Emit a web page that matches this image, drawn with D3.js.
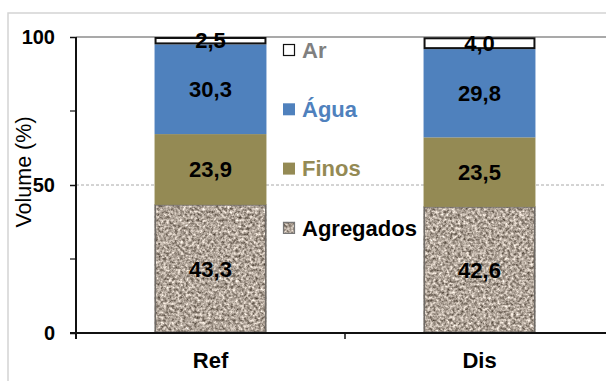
<!DOCTYPE html>
<html>
<head>
<meta charset="utf-8">
<script src="https://cdn.jsdelivr.net/npm/d3@7/dist/d3.min.js"></script>
<style>
  html, body { margin: 0; padding: 0; background: #fff; }
  svg { display: block; font-family: "Liberation Sans", Arial, sans-serif; }
</style>
</head>
<body>
<svg id="chart" width="606" height="381"></svg>
<script>
// Volume composition of the two mixes (%)
const categories = ["Ref", "Dis"];
const agregados = [43.3, 42.6];
const finos = [23.9, 23.5];
const agua = [30.3, 29.8];
const ar = [2.5, 4.0];
const seriesNames = ["Agregados", "Finos", "Água", "Ar"];
const yTicks = [0, 50, 100];
const yMinorTicks = [25, 75];
const yTitle = "Volume (%)";

const seriesValues = [agregados, finos, agua, ar];
const rows = categories.map((c, i) => {
  const r = { cat: c };
  seriesNames.forEach((s, k) => { r[s] = seriesValues[k][i]; });
  return r;
});

const svg = d3.select("#chart");
const W = 606, H = 381;
const plotL = 76, plotR = 614, plotT = 37, plotB = 333;

// grain texture for the aggregate segments
const defs = svg.append("defs");
const f = defs.append("filter").attr("id", "gravel")
  .attr("x", 0).attr("y", 0).attr("width", 1).attr("height", 1)
  .attr("color-interpolation-filters", "sRGB");
f.append("feTurbulence").attr("type", "fractalNoise")
  .attr("baseFrequency", 0.36).attr("numOctaves", 3).attr("seed", 7).attr("result", "n");
f.append("feColorMatrix").attr("in", "n").attr("type", "matrix")
  .attr("values", "1.05 0 0 0 0.165  1.05 0 0 0 0.12  1.05 0 0 0 0.075  0 0 0 0 1")
  .attr("result", "c");
f.append("feComposite").attr("in", "c").attr("in2", "SourceGraphic").attr("operator", "in");

// outer frame
svg.append("path").attr("d", `M8,${H}V13H${W}`)
  .attr("fill", "none").attr("stroke", "#d4d4d4").attr("stroke-width", 1.5);

const x = d3.scaleBand().domain(categories).range([plotL, plotR])
  .paddingInner(0.584).paddingOuter(0.292);
const y = d3.scaleLinear().domain([0, 100]).range([plotB, plotT]);

// gridlines
svg.append("line").attr("x1", plotL).attr("x2", W).attr("y1", y(50)).attr("y2", y(50))
  .attr("stroke", "#a8a8a8").attr("stroke-width", 1).attr("stroke-dasharray", "3,2");
svg.append("line").attr("x1", plotL).attr("x2", W).attr("y1", y(100)).attr("y2", y(100))
  .attr("stroke", "#8c8c8c").attr("stroke-width", 1.5);

const colors = { "Agregados": "#b0a496", "Finos": "#948a54", "Água": "#4f81bd", "Ar": "#ffffff" };
const legendColors = { "Agregados": "#000000", "Finos": "#948a54", "Água": "#4f81bd", "Ar": "#808080" };

const stack = d3.stack().keys(seriesNames)(rows);
const fmt = v => d3.format(".1f")(v).replace(".", ",");

stack.forEach(layer => {
  const key = layer.key;
  const g = svg.append("g");
  g.selectAll("rect.seg").data(layer).join("rect").attr("class", "seg")
    .attr("x", d => x(d.data.cat))
    .attr("width", x.bandwidth())
    .attr("y", d => y(d[1]))
    .attr("height", d => y(d[0]) - y(d[1]))
    .attr("fill", colors[key])
    .attr("filter", key === "Agregados" ? "url(#gravel)" : null);
  if (key === "Agregados") {
    g.selectAll("rect.edge").data(layer).join("rect").attr("class", "edge")
      .attr("x", d => x(d.data.cat) + 0.75)
      .attr("width", x.bandwidth() - 1.5)
      .attr("y", d => y(d[1]))
      .attr("height", d => y(d[0]) - y(d[1]) - 0.75)
      .attr("fill", "none").attr("stroke", "#6e6a66").attr("stroke-width", 1.5);
  }
  if (key === "Ar") {
    g.selectAll("rect.seg").attr("stroke", "#111").attr("stroke-width", 2)
      .attr("x", d => x(d.data.cat) + 1).attr("width", x.bandwidth() - 2)
      .attr("y", d => y(d[1]) + 1).attr("height", d => y(d[0]) - y(d[1]) - 2);
  }
});

// value labels
stack.forEach(layer => {
  svg.append("g").selectAll("text").data(layer).join("text")
    .attr("x", d => x(d.data.cat) + x.bandwidth() / 2)
    .attr("y", d => (y(d[0]) + y(d[1])) / 2)
    .attr("dy", "0.35em")
    .attr("text-anchor", "middle")
    .attr("font-size", 22).attr("font-weight", "bold").attr("fill", "#000")
    .text(d => fmt(d[1] - d[0]));
});

// y axis
const yAxis = svg.append("g").attr("transform", `translate(${plotL},0)`)
  .call(d3.axisLeft(y).tickValues(yTicks).tickSize(6).tickPadding(15).tickFormat(d3.format("d")));
yAxis.select(".domain").remove();
yAxis.selectAll(".tick line").attr("stroke", "#111").attr("stroke-width", 1.5);
yAxis.selectAll(".tick text").attr("font-size", 20).attr("font-weight", "bold")
  .attr("font-family", "Liberation Sans, Arial, sans-serif").attr("fill", "#000");
svg.append("g").selectAll("line").data(yMinorTicks).join("line")
  .attr("x1", plotL - 6).attr("x2", plotL).attr("y1", d => y(d)).attr("y2", d => y(d))
  .attr("stroke", "#111").attr("stroke-width", 1.2);
svg.append("line").attr("x1", plotL).attr("x2", plotL).attr("y1", plotT).attr("y2", plotB + 6)
  .attr("stroke", "#111").attr("stroke-width", 2);

// x axis
svg.append("line").attr("x1", plotL - 6).attr("x2", W).attr("y1", plotB).attr("y2", plotB)
  .attr("stroke", "#111").attr("stroke-width", 2);
const bounds = [plotL, plotL + x.step(), plotR];
svg.append("g").selectAll("line").data(bounds).join("line")
  .attr("x1", d => d).attr("x2", d => d).attr("y1", plotB).attr("y2", plotB + 6)
  .attr("stroke", "#111").attr("stroke-width", 1.5);
svg.append("g").selectAll("text").data(categories).join("text")
  .attr("x", d => x(d) + x.bandwidth() / 2).attr("y", 368)
  .attr("text-anchor", "middle").attr("font-size", 22).attr("font-weight", "bold")
  .text(d => d);

// y title
svg.append("text").attr("transform", `translate(31,172) rotate(-90)`)
  .attr("text-anchor", "middle").attr("font-size", 21.5).text(yTitle);

// legend
const legendOrder = seriesNames.slice().reverse();
const lg = svg.append("g").selectAll("g").data(legendOrder).join("g")
  .attr("transform", (d, i) => `translate(283,${50 + i * 59.3})`);
lg.append("rect").attr("x", 0).attr("y", -6).attr("width", 12).attr("height", 12)
  .attr("fill", d => colors[d])
  .attr("filter", d => d === "Agregados" ? "url(#gravel)" : null);
lg.filter(d => d === "Ar" || d === "Agregados").append("rect")
  .attr("x", 0.5).attr("y", -5.5).attr("width", 11).attr("height", 11)
  .attr("fill", "none").attr("stroke", d => d === "Ar" ? "#111" : "#777").attr("stroke-width", 1.2);
lg.append("text").attr("x", 19).attr("dy", "0.35em")
  .attr("font-size", 22).attr("font-weight", "bold")
  .attr("fill", d => legendColors[d]).text(d => d);
</script>
</body>
</html>
